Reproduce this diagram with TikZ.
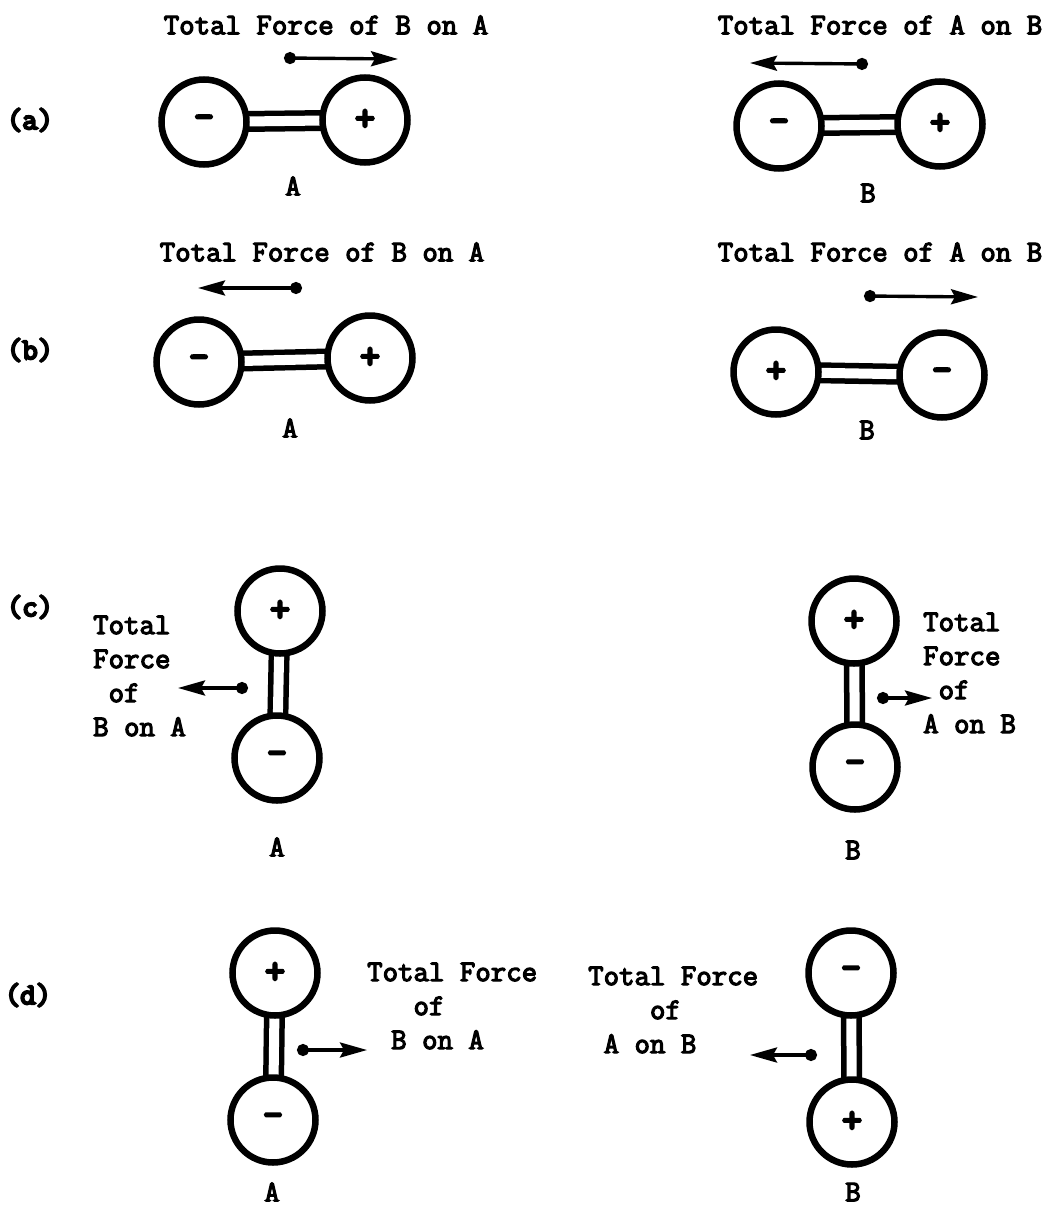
\documentclass[tikz,border=0pt]{standalone}
\usepackage{fontspec}
\newfontfamily\typefont{Latin Modern Mono}[FakeBold=4]
\newfontfamily\heavyfont{Latin Modern Mono}[FakeBold=7]
\usetikzlibrary{arrows.meta,backgrounds,positioning}
\tikzset{
atom/.style  = {draw, circle, fill=white, line width=6.5pt, minimum size=85pt, inner sep=0pt, font=\fontsize{38}{38}\selectfont\heavyfont\bfseries},
bond/.style  = {double, double=white, line width=5.5pt, double distance=10pt},
force/.style = {line width=3.4pt, {Circle[length=12pt]}-{Stealth[length=27pt,width=15pt,inset=4pt]}},
txt/.style   = {inner sep=0pt, align=left, font=\fontsize{30}{34}\selectfont\typefont\bfseries},
part/.style  = {inner sep=0pt, font=\fontsize{30}{34}\selectfont\heavyfont\bfseries}
}
\begin{document}
\begin{tikzpicture}[x=1pt, y=-1pt]
  \useasboundingbox (0,0) rectangle (1056,1210);

  % (a)
  \node [part]                  (la)     at (30,120)    {(a)};
  \node [txt]                   (aAtxt)  at (326,25)    {Total Force of B on A};
  \node [atom]                  (aAm)    at (204,122)   {-};
  \node [atom]                  (aAp)    at (365,120)   {+};
  \node [txt]                   (aAlab)  at (293,186)   {A};
  \coordinate                   (aAtail) at (284,58);
  \coordinate                   (aAtip)  at (398,59);
  \node [txt]                   (aBtxt)  at (880,25)    {Total Force of A on B};
  \node [atom]                  (aBm)    at (779,126)   {-};
  \node [atom]                  (aBp)    at (940,124)   {+};
  \node [txt]                   (aBlab)  at (868,193)   {B};
  \coordinate                   (aBtail) at (868,64);
  \coordinate                   (aBtip)  at (750,63);

  % (b)
  \node [part]                  (lb)     at (30,350)    {(b)};
  \node [txt]                   (bAtxt)  at (322,252)   {Total Force of B on A};
  \node [atom]                  (bAm)    at (199,362)   {-};
  \node [atom]                  (bAp)    at (370,358)   {+};
  \node [txt]                   (bAlab)  at (290,428)   {A};
  \coordinate                   (bAtail) at (302,288);
  \coordinate                   (bAtip)  at (198,288);
  \node [txt]                   (bBtxt)  at (880,252)   {Total Force of A on B};
  \node [atom]                  (bBp)    at (776,372)   {+};
  \node [atom]                  (bBm)    at (942,375)   {-};
  \node [txt]                   (bBlab)  at (867,430)   {B};
  \coordinate                   (bBtail) at (864,296);
  \coordinate                   (bBtip)  at (978,297);

  % (c)
  \node [part]                  (lc)     at (30,607)    {(c)};
  \node [atom]                  (cAp)    at (280,611)   {+};
  \node [atom]                  (cAm)    at (277,758)   {-};
  \node [txt, anchor=west]      (cAtxt)  at (93,676)    {Total\\Force\\\hphantom{T}of\\B on A};
  \node [txt]                   (cAlab)  at (277,847)   {A};
  \coordinate                   (cAtail) at (248,688);
  \coordinate                   (cAtip)  at (178,688);
  \node [atom]                  (cBp)    at (854,621)   {+};
  \node [atom]                  (cBm)    at (855,767)   {-};
  \node [txt, anchor=west]      (cBtxt)  at (923,673)   {Total\\Force\\\hphantom{T}of\\A on B};
  \node [txt]                   (cBlab)  at (853,850)   {B};
  \coordinate                   (cBtail) at (877,698);
  \coordinate                   (cBtip)  at (932,698);

  % (d)
  \node [part]                  (ld)     at (28,995)    {(d)};
  \node [atom]                  (dAp)    at (275,973)   {+};
  \node [atom]                  (dAm)    at (273,1120)  {-};
  \node [txt, anchor=west]      (dAtxt)  at (367,1006)  {Total Force\\\hphantom{Tot}of\\\hspace*{0.8em}B on A};
  \node [txt]                   (dAlab)  at (272,1192)  {A};
  \coordinate                   (dAtail) at (297,1050);
  \coordinate                   (dAtip)  at (367,1050);
  \node [atom]                  (dBm)    at (851,973)   {-};
  \node [atom]                  (dBp)    at (852,1122)  {+};
  \node [txt, anchor=west]      (dBtxt)  at (588,1010)  {Total Force\\\hphantom{Tota}of\\\hphantom{T}A on B};
  \node [txt]                   (dBlab)  at (853,1192)  {B};
  \coordinate                   (dBtail) at (817,1055);
  \coordinate                   (dBtip)  at (750,1055);

  \begin{scope}[on background layer]
    \draw [bond] (aAm.center) -- (aAp.center);
    \draw [bond] (aBm.center) -- (aBp.center);
    \draw [bond] (bAm.center) -- (bAp.center);
    \draw [bond] (bBp.center) -- (bBm.center);
    \draw [bond] (cAp.center) -- (cAm.center);
    \draw [bond] (cBp.center) -- (cBm.center);
    \draw [bond] (dAp.center) -- (dAm.center);
    \draw [bond] (dBm.center) -- (dBp.center);
  \end{scope}

  \draw [force] (aAtail) -- (aAtip);
  \draw [force] (aBtail) -- (aBtip);
  \draw [force] (bAtail) -- (bAtip);
  \draw [force] (bBtail) -- (bBtip);
  \draw [force] (cAtail) -- (cAtip);
  \draw [force] (cBtail) -- (cBtip);
  \draw [force] (dAtail) -- (dAtip);
  \draw [force] (dBtail) -- (dBtip);
\end{tikzpicture}
\end{document}
